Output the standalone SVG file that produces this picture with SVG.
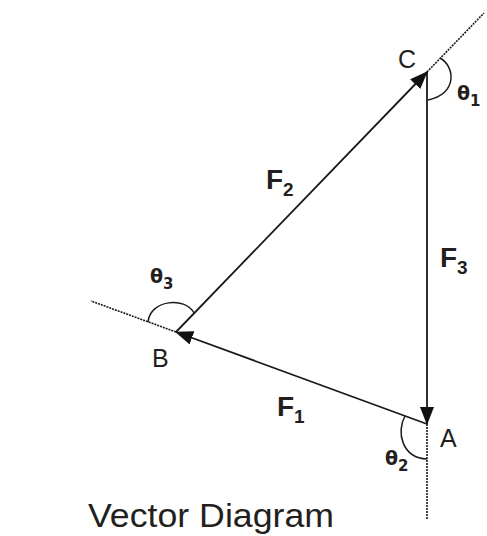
<svg xmlns="http://www.w3.org/2000/svg" width="487" height="536" viewBox="0 0 487 536">
<style>
.vec{stroke:#1a1a1a;stroke-width:1.8;fill:none;marker-end:url(#ah)}
.ext{stroke:#1a1a1a;stroke-width:1.6;fill:none;stroke-dasharray:2 1}
.arc{stroke:#1a1a1a;stroke-width:1.5;fill:none}
.pt{font-family:"Liberation Sans",Arial,sans-serif;font-size:25px;fill:#231f20}
.fl{font-family:"Liberation Sans Narrow","Liberation Sans",Arial,sans-serif;font-weight:bold;font-size:28px;fill:#231f20}
.th{font-family:"DejaVu Sans","Liberation Sans",sans-serif;font-weight:bold;font-size:19px;fill:#231f20}
.sub{font-size:19px}
.thsub{font-size:15px}
.title{font-family:"Liberation Sans",Arial,sans-serif;font-size:34px;fill:#231f20}
</style>
<defs>
<marker id="ah" viewBox="0 0 18 14" refX="17" refY="7" markerWidth="18" markerHeight="14" markerUnits="userSpaceOnUse" orient="auto">
<path d="M0,0 L18,7 L0,14 z" fill="#111"/>
</marker>
</defs>
<g id="connectors">
<line class="ext" x1="427" y1="72" x2="484" y2="13"/>
<line class="ext" x1="176" y1="332" x2="91" y2="301"/>
<line class="ext" x1="427" y1="424" x2="427" y2="520"/>
<line class="vec" x1="427" y1="72" x2="427" y2="424"/>
<line class="vec" x1="176" y1="332" x2="427" y2="72"/>
<line class="vec" x1="427" y1="424" x2="176" y2="332"/>
<path class="arc" d="M440,58 C455,66 458,94 428,100"/>
<path class="arc" d="M405,416 C396,432 402,458 427,459"/>
<path class="arc" d="M148,322 C150,300 185,296 194,313"/>
</g>
<g id="node-C"><text class="pt" x="398" y="68">C</text></g>
<g id="node-B"><text class="pt" x="152" y="367">B</text></g>
<g id="node-A"><text class="pt" x="440" y="447">A</text></g>
<g id="label-F1"><text class="fl" x="277" y="416">F<tspan class="sub" dy="7">1</tspan></text></g>
<g id="label-F2"><text class="fl" x="266" y="189">F<tspan class="sub" dy="7">2</tspan></text></g>
<g id="label-F3"><text class="fl" x="440" y="267">F<tspan class="sub" dy="7">3</tspan></text></g>
<g id="label-theta1"><text class="th" x="457" y="100">θ<tspan class="thsub" dy="6">1</tspan></text></g>
<g id="label-theta2"><text class="th" x="385" y="465">θ<tspan class="thsub" dy="6">2</tspan></text></g>
<g id="label-theta3"><text class="th" x="150" y="283">θ<tspan class="thsub" dy="6">3</tspan></text></g>
<g id="title"><text class="title" x="88" y="527" textLength="246" lengthAdjust="spacingAndGlyphs">Vector Diagram</text></g>
</svg>
